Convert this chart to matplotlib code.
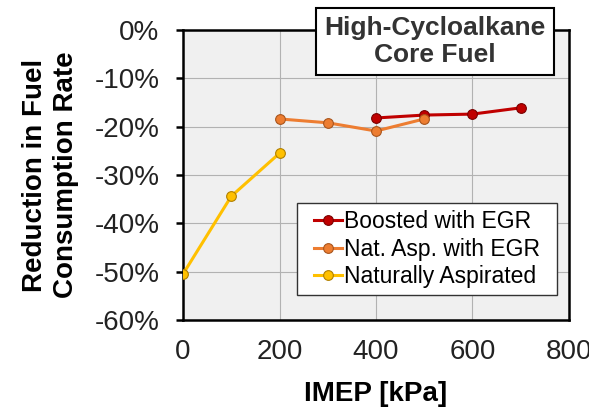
import matplotlib as mpl
import matplotlib.pyplot as plt
from matplotlib.patches import Rectangle
from matplotlib.ticker import FuncFormatter

plt.rcParams["font.family"] = ["Liberation Sans", "DejaVu Sans"]

# IMEP [kPa] and fuel-consumption-rate reduction [%] per operating mode
boosted_imep = [400, 500, 600, 700]
boosted_red = [-18.2, -17.6, -17.4, -16.1]

natasp_egr_imep = [200, 300, 400, 500]
natasp_egr_red = [-18.4, -19.2, -20.9, -18.4]

natasp_imep = [0, 100, 200]
natasp_red = [-50.5, -34.4, -25.5]

series = [
    ("Boosted with EGR", boosted_imep, boosted_red, "#C00000", "#7A0000"),
    ("Nat. Asp. with EGR", natasp_egr_imep, natasp_egr_red, "#ED7D31", "#A8541C"),
    ("Naturally Aspirated", natasp_imep, natasp_red, "#FFC000", "#B07F00"),
]

fig = plt.figure(figsize=(5.89, 4.18), dpi=100)
ax = fig.add_axes([183 / 589, 1 - 320 / 418, 386 / 589, 290 / 418])
ax.set_facecolor("#F0F0F0")

for label, x, y, color, edge in series:
    ax.plot(x, y, "-o", color=color, lw=2.2, ms=7, mfc=color, mec=edge,
            mew=0.8, label=label, zorder=3)

ax.set_xlim(0, 800)
ax.set_ylim(-60, 0)
ax.set_xticks([0, 200, 400, 600, 800])
ax.set_yticks(range(-60, 1, 10))
ax.yaxis.set_major_formatter(FuncFormatter(lambda v, _: f"{v:.0f}%"))

ax.grid(True, color="#B2B2B2", lw=0.8)
ax.set_axisbelow(True)
for s in ax.spines.values():
    s.set_linewidth(1.8)
    s.set_color("black")

ax.tick_params(axis="y", direction="out", length=5, width=1.8, pad=12,
               labelsize=20, labelcolor="#222222")
ax.tick_params(axis="x", length=0, pad=14, labelsize=20, labelcolor="#222222")

ax.set_xlabel("IMEP [kPa]", fontsize=20, fontweight="bold", labelpad=11)
ax.set_ylabel("Reduction in Fuel\nConsumption Rate", fontsize=20,
              fontweight="bold", linespacing=1.25)
ax.yaxis.set_label_coords(-0.27, 0.5)

# legend without its own frame; a wider box is drawn behind it below
leg = ax.legend(loc="upper right", bbox_to_anchor=(0.943, 0.403),
                borderaxespad=0, fontsize=16.5, handlelength=1.2,
                handletextpad=0.1, labelspacing=0.2, borderpad=0.3,
                frameon=False)
leg.set_zorder(6)

fig.canvas.draw()
bb = leg.get_window_extent().transformed(ax.transAxes.inverted())
xpad = 10 / 386
ax.add_patch(Rectangle((bb.x0 - xpad, bb.y0), bb.width + 2 * xpad, bb.height,
                       transform=ax.transAxes, fc="white", ec="#333333",
                       lw=1.0, zorder=5))

fig.text(435 / 589, 1 - 41.5 / 418, "High-Cycloalkane\nCore Fuel",
         fontsize=19, fontweight="bold", color="#333333", ha="center",
         va="center", linespacing=1.15,
         bbox=dict(boxstyle="square,pad=0.3", fc="white", ec="black", lw=1.5))

plt.savefig("out.png", dpi=100)
